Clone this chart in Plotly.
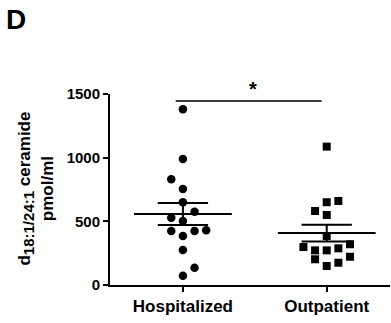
import numpy as np
import plotly.graph_objects as go

# ---- data ----
categories = ["Hospitalized", "Outpatient"]
hospitalized = [1380, 990, 830, 754, 650, 576, 529, 503, 424, 424, 430, 385, 275, 136, 73]
outpatient = [1087, 650, 660, 581, 550, 385, 298, 272, 272, 288, 320, 202, 222, 149, 175]
y_ticks = [0, 500, 1000, 1500]

# scatter (column) jitter slots, layout only
hosp_slots = [0, 0, -1, 0, 0, 1, -1, 0, -1, 1, 2, 0, 0, 1, 0]
out_slots = [0, 0, 1, -1, 0, 0, -2, -1, 0, 1, 2, -1, 2, 0, 1]
slot_w = 0.081

FONT = "Liberation Sans, Arial, sans-serif"

fig = go.Figure()

groups = [(hospitalized, hosp_slots, "circle", 8.5), (outpatient, out_slots, "square", 8)]
for i, (vals, slots, sym, sz) in enumerate(groups):
    xs = [i + s * slot_w for s in slots]
    fig.add_trace(go.Scatter(x=xs, y=vals, mode="markers",
                             marker=dict(symbol=sym, size=sz, color="black", line=dict(width=0)),
                             showlegend=False, hoverinfo="skip", cliponaxis=False))
    arr = np.array(vals, dtype=float)
    m = arr.mean()
    sem = arr.std(ddof=1) / np.sqrt(len(arr))
    # mean line
    fig.add_trace(go.Scatter(x=[i - 0.34, i + 0.34], y=[m, m], mode="lines",
                             line=dict(color="black", width=2), showlegend=False, hoverinfo="skip"))
    # SEM caps and vertical
    for v in (m - sem, m + sem):
        fig.add_trace(go.Scatter(x=[i - 0.175, i + 0.175], y=[v, v], mode="lines",
                                 line=dict(color="black", width=2), showlegend=False, hoverinfo="skip"))
    fig.add_trace(go.Scatter(x=[i, i], y=[m - sem, m + sem], mode="lines",
                             line=dict(color="black", width=2), showlegend=False, hoverinfo="skip"))

# significance bar
sig_y = 1445
fig.add_trace(go.Scatter(x=[-0.05, 0.965], y=[sig_y, sig_y], mode="lines",
                         line=dict(color="black", width=1.5), showlegend=False, hoverinfo="skip",
                         cliponaxis=False))
fig.add_annotation(x=(253 - 110) / 280, y=(285 - 89) / 191, xref="paper", yref="paper",
                   xanchor="center", yanchor="middle", text="<b>*</b>", showarrow=False,
                   font=dict(family=FONT, size=20, color="black"))

# panel label
fig.add_annotation(xref="paper", yref="paper", x=(16 - 110) / 280, y=(285 - 20) / 191,
                   xanchor="center", yanchor="middle", text="<b>D</b>", showarrow=False,
                   font=dict(family=FONT, size=28, color="black"))

# y axis title
fig.add_annotation(xref="paper", yref="paper", x=(36 - 110) / 280, y=0.505,
                   xanchor="center", yanchor="middle", textangle=-90, showarrow=False,
                   text="<b>d<sub><span style='font-size:15px'>18:1/24:1</span></sub> ceramide<br>pmol/ml</b>",
                   font=dict(family=FONT, size=17, color="black"))

fig.update_layout(
    width=391, height=323,
    margin=dict(l=110, r=1, t=94, b=38),
    paper_bgcolor="white", plot_bgcolor="white",
    showlegend=False,
    xaxis=dict(range=[-0.507, 1.44], tickvals=[0, 1], ticktext=[f"<b>{c}</b>" for c in categories],
               showline=True, linecolor="black", linewidth=2, ticks="outside", ticklen=5,
               tickwidth=2, tickcolor="black", showgrid=False, zeroline=False,
               tickfont=dict(family=FONT, size=17, color="black")),
    yaxis=dict(range=[0, 1500], tickvals=y_ticks, ticktext=[f"<b>{t}</b>" for t in y_ticks],
               showline=True, linecolor="black", linewidth=2, ticks="outside", ticklen=5,
               tickwidth=2, tickcolor="black", showgrid=False, zeroline=False,
               tickfont=dict(family=FONT, size=15, color="black")),
)

fig.write_html("out.html")
